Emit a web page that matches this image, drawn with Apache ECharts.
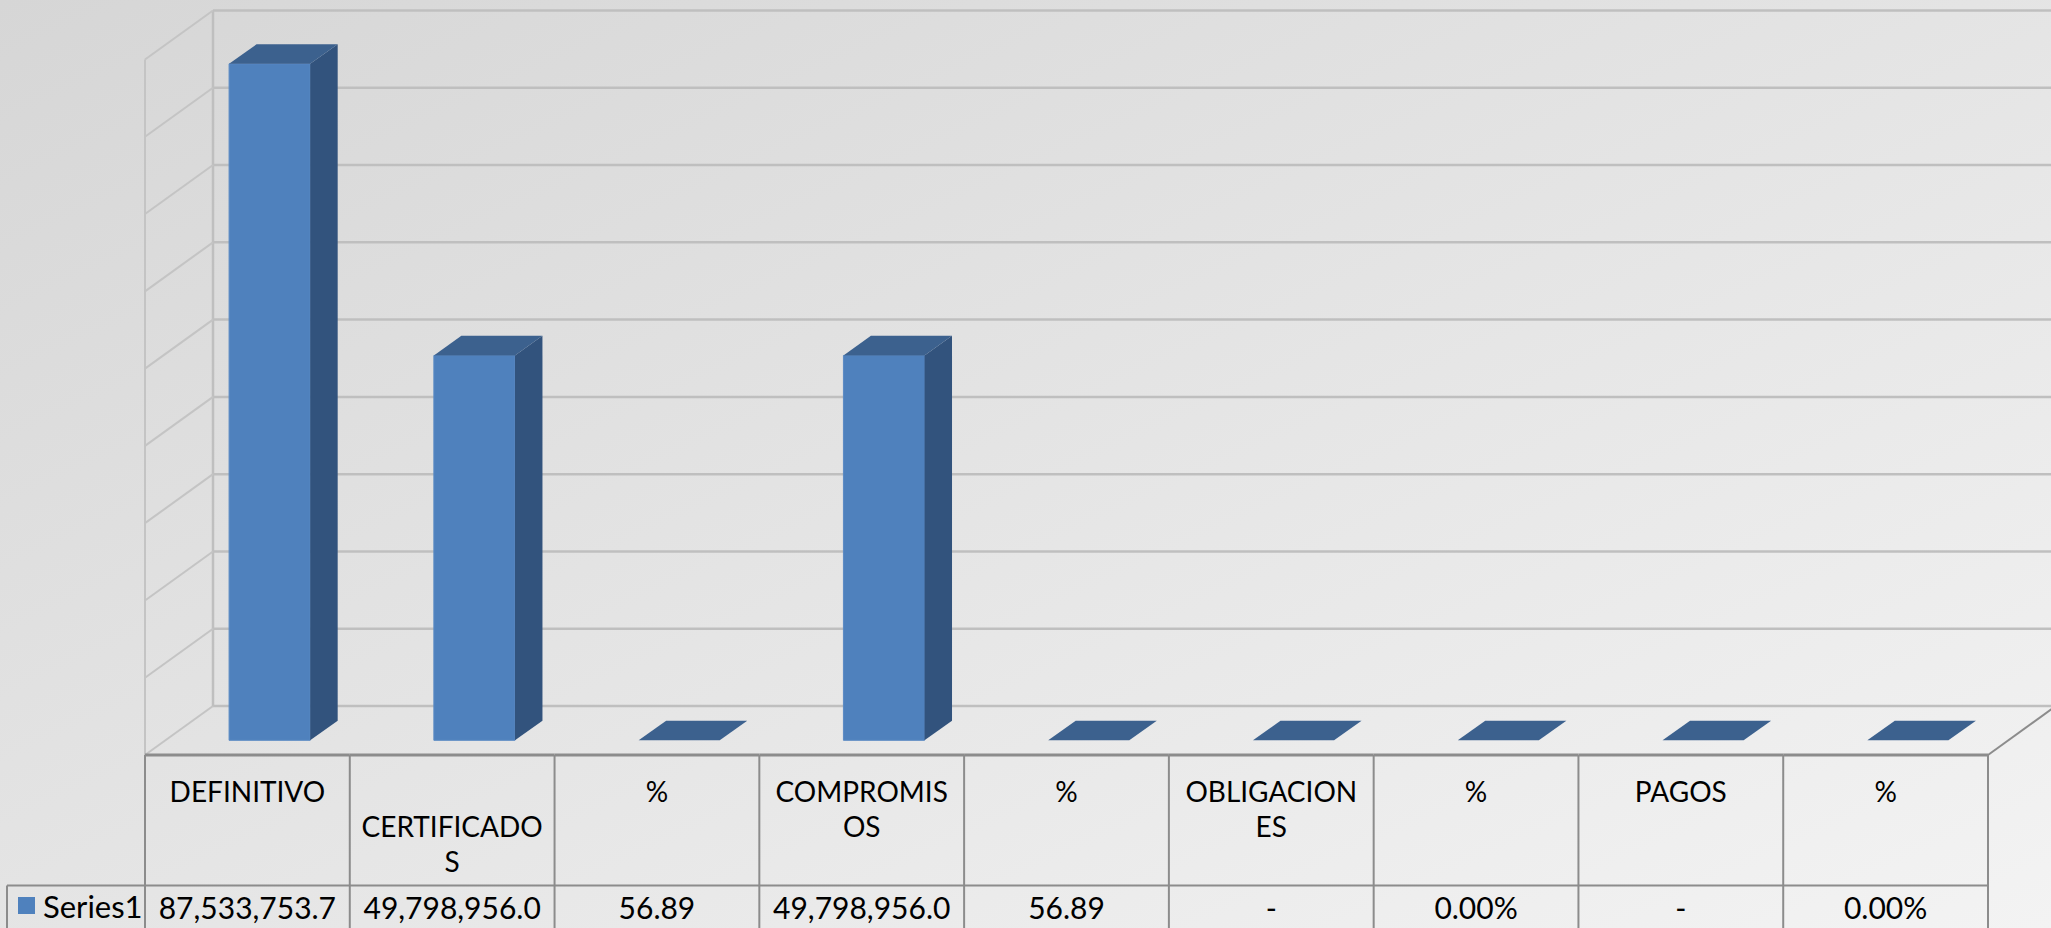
<!DOCTYPE html>
<html>
<head>
<meta charset="utf-8">
<script src="https://cdn.jsdelivr.net/npm/echarts@6/dist/echarts.min.js"></script>
<style>
html,body{margin:0;padding:0;background:#e6e6e6;}
#chart{width:2051px;height:928px;}
</style>
</head>
<body>
<div id="chart"></div>
<script>
// ---- data ----
const categories = ['DEFINITIVO', 'CERTIFICADOS', '%', 'COMPROMISOS', '%', 'OBLIGACIONES', '%', 'PAGOS', '%'];
const headerLabels = ['DEFINITIVO', '\nCERTIFICADO\nS', '%', 'COMPROMIS\nOS', '%', 'OBLIGACION\nES', '%', 'PAGOS', '%'];
const seriesName = 'Series1';
const series1Values = [87533753.7, 49798956.0, 56.89, 49798956.0, 56.89, 0, 0, 0, 0];
const series1Labels = ['87,533,753.7', '49,798,956.0', '56.89', '49,798,956.0', '56.89', '-', '0.00%', '-', '0.00%'];
const yTicks = [0, 10000000, 20000000, 30000000, 40000000, 50000000, 60000000, 70000000, 80000000, 90000000];

// ---- style ----
const FONT = 'Lato, "Open Sans", sans-serif';
const DX = 68, DY = 49;          // floor depth offset
const BDX = 27.5, BDY = 19.6;    // bar depth offset
const GRID_COLOR = '#BFBFBF';
const EDGE_COLOR = '#8C8C8C';
const FRONT = '#4F81BD', SIDE = '#32537D', TOP = '#3C618E';

const chart = echarts.init(document.getElementById('chart'), null, {renderer: 'svg'});

function frameItem(params, api) {
  const cs = params.coordSys;
  const x0 = cs.x, x1 = cs.x + cs.width;
  const v = api.value(0);
  const y = api.coord([0, v])[1];
  const children = [
    {type: 'line', shape: {x1: x0 + DX, y1: y - DY, x2: x1 + DX, y2: y - DY},
     style: {stroke: GRID_COLOR, lineWidth: 2.5}},
    {type: 'line', shape: {x1: x0, y1: y, x2: x0 + DX, y2: y - DY},
     style: {stroke: '#C4C4C4', lineWidth: 2}}
  ];
  if (params.dataIndex === 0) {
    const yTop = api.coord([0, yTicks[yTicks.length - 1]])[1];
    children.push(
      {type: 'line', shape: {x1: x0, y1: yTop, x2: x0, y2: y}, style: {stroke: '#C4C4C4', lineWidth: 2}},
      {type: 'line', shape: {x1: x0 + DX, y1: yTop - DY, x2: x0 + DX, y2: y - DY}, style: {stroke: GRID_COLOR, lineWidth: 2.5}},
      {type: 'line', shape: {x1: x1, y1: y, x2: x1 + DX, y2: y - DY}, style: {stroke: EDGE_COLOR, lineWidth: 2}}
    );
  }
  return {type: 'group', children};
}

function barItem(params, api) {
  const i = api.value(0), v = api.value(1);
  const p = api.coord([i, v]);
  const p0 = api.coord([i, 0]);
  const cw = api.size([1, 0])[0];
  const bw = cw * 0.396;
  const shiftX = DX / 2 - BDX / 2, shiftY = DY / 2 - BDY / 2;
  const fx = p[0] + shiftX - bw / 2 + 2;
  const top = p[1] - shiftY;
  const bottom = p0[1] - shiftY;
  const children = [];
  if (bottom - top > 0.5) {
    children.push({type: 'rect', shape: {x: fx, y: top, width: bw, height: bottom - top},
      style: {fill: FRONT, stroke: '#5A8AC4', lineWidth: 1}});
    children.push({type: 'polygon', shape: {points: [[fx + bw, top], [fx + bw + BDX, top - BDY], [fx + bw + BDX, bottom - BDY], [fx + bw, bottom]]},
      style: {fill: SIDE}});
  }
  children.push({type: 'polygon', shape: {points: [[fx, top], [fx + bw, top], [fx + bw + BDX, top - BDY], [fx + BDX, top - BDY]]},
    style: {fill: TOP}});
  return {type: 'group', children};
}

function tableItem(params, api) {
  const cs = params.coordSys;
  const i = api.value(0);
  const cx = api.coord([i, 0])[0];
  const cw = api.size([1, 0])[0];
  const yTopT = cs.y + cs.height;
  const rowH = 130.5;
  const yMid = yTopT + rowH;
  const yBot = 940;
  const xl = cx - cw / 2, xr = cx + cw / 2;
  const children = [
    {type: 'line', shape: {x1: xr, y1: yTopT, x2: xr, y2: yBot}, style: {stroke: EDGE_COLOR, lineWidth: 2}},
    {type: 'line', shape: {x1: xl, y1: yTopT, x2: xr, y2: yTopT}, style: {stroke: EDGE_COLOR, lineWidth: 3}},
    {type: 'line', shape: {x1: xl, y1: yMid, x2: xr, y2: yMid}, style: {stroke: EDGE_COLOR, lineWidth: 2}},
    {type: 'text', style: {text: headerLabels[i], x: cx, y: yTopT + 19, align: 'center', verticalAlign: 'top',
      fontSize: 28, lineHeight: 34.7, fontFamily: FONT, fill: '#000'}},
    {type: 'text', style: {text: series1Labels[i], x: cx, y: yMid + 21.5, align: 'center', verticalAlign: 'middle',
      fontSize: 30, fontFamily: FONT, fill: '#000'}}
  ];
  if (i === 0) {
    children.push(
      {type: 'line', shape: {x1: xl, y1: yTopT, x2: xl, y2: yBot}, style: {stroke: EDGE_COLOR, lineWidth: 2}},
      {type: 'line', shape: {x1: 7, y1: yMid, x2: xl, y2: yMid}, style: {stroke: EDGE_COLOR, lineWidth: 2}},
      {type: 'line', shape: {x1: 7, y1: yMid, x2: 7, y2: yBot}, style: {stroke: EDGE_COLOR, lineWidth: 2}}
    );
  }
  return {type: 'group', children};
}

chart.setOption({
  animation: false,
  backgroundColor: {type: 'linear', x: 0, y: 0, x2: 1, y2: 1,
    colorStops: [{offset: 0, color: '#D6D6D6'}, {offset: 1, color: '#F3F3F3'}]},
  grid: {left: 145, right: 63, top: 59.5, bottom: 173, containLabel: false},
  legend: {data: [seriesName], icon: 'rect', itemWidth: 17, itemHeight: 17, itemGap: 0,
    left: 18, top: 890, padding: 0, selectedMode: false,
    textStyle: {fontSize: 31, fontFamily: FONT, color: '#000', padding: [0, 0, 0, 3]}},
  xAxis: {type: 'category', data: categories, show: false},
  yAxis: {type: 'value', min: 0, max: 90000000, interval: 10000000, show: false},
  series: [
    {type: 'custom', name: 'frame', renderItem: frameItem, data: yTicks.map(v => [v]),
     encode: {y: 0}, z: 1, silent: true},
    {type: 'custom', name: 'table', renderItem: tableItem, data: categories.map((c, i) => [i]),
     encode: {x: 0}, z: 2, silent: true},
    {type: 'custom', name: seriesName, renderItem: barItem, itemStyle: {color: FRONT},
     data: series1Values.map((v, i) => [i, v]), encode: {x: 0, y: 1}, z: 3}
  ]
});
</script>
</body>
</html>
